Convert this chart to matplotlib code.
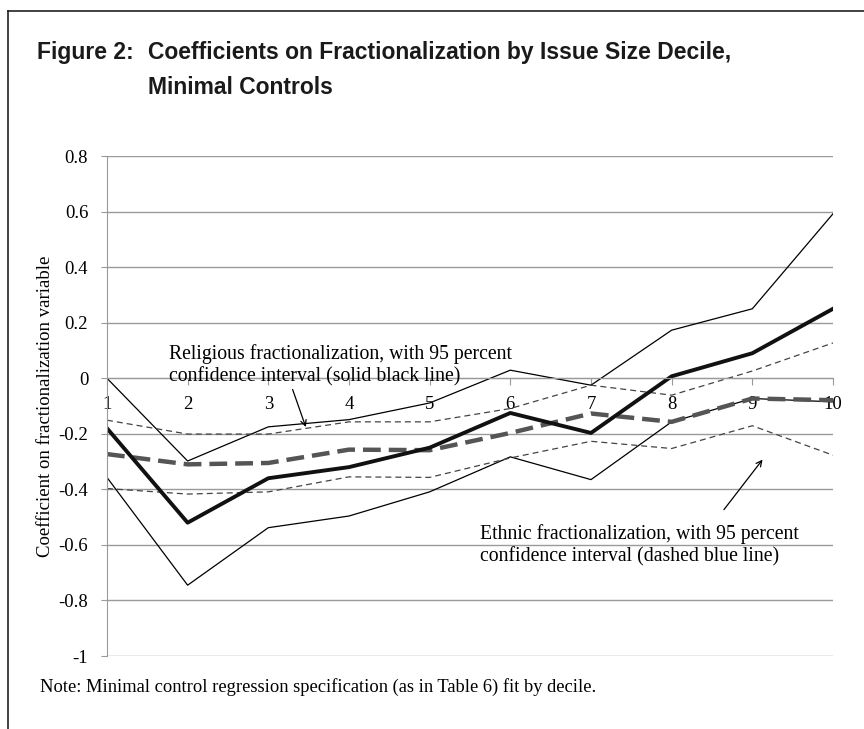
import matplotlib
matplotlib.use('Agg')
import matplotlib.pyplot as plt
from matplotlib.lines import Line2D

deciles = [1, 2, 3, 4, 5, 6, 7, 8, 9, 10]

# religious fractionalization: point estimate and 95% CI
relig_coef = [-0.18, -0.52, -0.36, -0.32, -0.25, -0.125, -0.197, 0.007, 0.09, 0.25]
relig_hi = [0.0, -0.298, -0.175, -0.149, -0.089, 0.029, -0.025, 0.173, 0.25, 0.592]
relig_lo = [-0.357, -0.745, -0.538, -0.496, -0.409, -0.283, -0.365, -0.157, -0.073, -0.085]

# ethnic fractionalization: point estimate and 95% CI
ethnic_coef = [-0.273, -0.31, -0.305, -0.257, -0.259, -0.197, -0.127, -0.157, -0.073, -0.079]
ethnic_hi = [-0.151, -0.201, -0.201, -0.157, -0.157, -0.109, -0.025, -0.061, 0.026, 0.127]
ethnic_lo = [-0.397, -0.417, -0.409, -0.355, -0.357, -0.287, -0.227, -0.253, -0.171, -0.277]

yticks = [-1, -0.8, -0.6, -0.4, -0.2, 0, 0.2, 0.4, 0.6, 0.8]
ytick_labels = ['-1', '-0.8', '-0.6', '-0.4', '-0.2', '0', '0.2', '0.4', '0.6', '0.8']

plt.rcParams['font.family'] = ['Liberation Serif', 'DejaVu Serif']
title_font = 'Liberation Sans'
grid_col = '#9a9a9a'

fig = plt.figure(figsize=(8.64, 7.29), dpi=100)
ax = fig.add_axes([0.1238, 0.1001, 0.8403, 0.6859])

# frame lines of the page box (top and left)
fig.add_artist(Line2D([8 / 864, 1], [1 - 11 / 729, 1 - 11 / 729], color='#222222', lw=1.2))
fig.add_artist(Line2D([8 / 864, 8 / 864], [0, 1 - 11 / 729], color='#222222', lw=1.2))

ax.plot(deciles, relig_hi, color='black', lw=0.9)
ax.plot(deciles, relig_lo, color='black', lw=0.9)
ax.plot(deciles, ethnic_hi, color='#444444', lw=0.9, linestyle=(0, (4.8, 3.2)))
ax.plot(deciles, ethnic_lo, color='#444444', lw=0.9, linestyle=(0, (4.8, 3.2)))
ax.plot(deciles, ethnic_coef, color='#555555', lw=3.2, linestyle=(0, (4, 1.8)))
ax.plot(deciles, relig_coef, color='#111111', lw=2.8)

for s in ['top', 'right']:
    ax.spines[s].set_visible(False)
ax.spines['left'].set_color(grid_col)
ax.spines['bottom'].set_position(('data', 0))
ax.spines['bottom'].set_color(grid_col)

ax.set_xlim(1, 10)
ax.set_ylim(-1, 0.8)
ax.set_yticks(yticks)
ax.set_yticklabels(ytick_labels, fontsize=13.5)
ax.set_xticks(deciles)
ax.set_xticklabels([str(d) for d in deciles], fontsize=13.5)

ax.grid(True, axis='y', color=grid_col, lw=1.0)
ax.set_axisbelow(True)
ax.tick_params(axis='y', length=4.5, color=grid_col, pad=9)
ax.tick_params(axis='x', length=4.8, color=grid_col, pad=8)

ax.set_ylabel('Coefficient on fractionalization variable', fontsize=13.5, labelpad=3)

ax.text(1.77, 0.048, 'Religious fractionalization, with 95 percent\nconfidence interval (solid black line)',
        fontsize=14.2, va='center', ha='left', linespacing=1.2)
ax.annotate('', xy=(3.476, -0.185), xytext=(3.29, -0.031),
            arrowprops=dict(arrowstyle='->', color='black', lw=0.9))

ax.text(5.63, -0.6025, 'Ethnic fractionalization, with 95 percent\nconfidence interval (dashed blue line)',
        fontsize=14.2, va='center', ha='left', linespacing=1.2)
ax.annotate('', xy=(9.148, -0.285), xytext=(8.627, -0.481),
            arrowprops=dict(arrowstyle='->', color='black', lw=0.9))

fig.text(37 / 864, 1 - 59 / 729, 'Figure 2:', family=title_font,
         fontweight='bold', fontsize=16.5, va='baseline', ha='left', color='#1a1a1a')
fig.text(148 / 864, 1 - 59 / 729, 'Coefficients on Fractionalization by Issue Size Decile,',
         family=title_font, fontweight='bold', fontsize=16.5, va='baseline', ha='left', color='#1a1a1a')
fig.text(148 / 864, 1 - 94 / 729, 'Minimal Controls',
         family=title_font, fontweight='bold', fontsize=16.5, va='baseline', ha='left', color='#1a1a1a')

fig.text(40 / 864, 1 - 687 / 729,
         'Note: Minimal control regression specification (as in Table 6) fit by decile.',
         fontsize=13.3, va='center', ha='left')

plt.savefig('out.png', dpi=100)
